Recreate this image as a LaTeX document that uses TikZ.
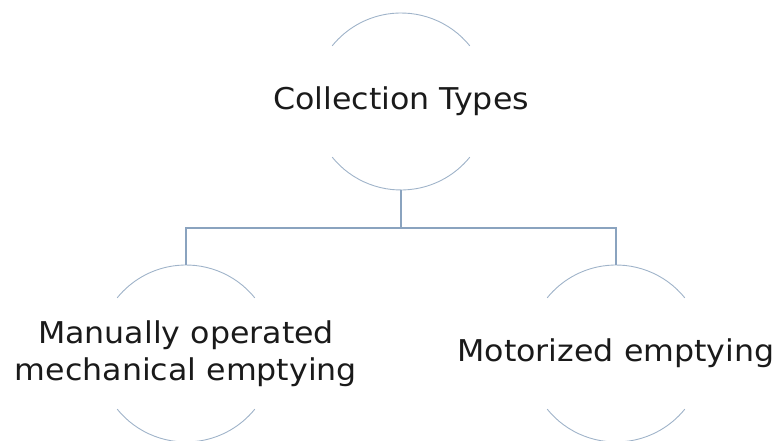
\documentclass[tikz,border=0pt]{standalone}
\usepackage{fontspec}
\setmainfont[FakeStretch=1.055]{DejaVu Sans}
\definecolor{arcgray}{HTML}{9FB3C9}
\definecolor{linkblue}{HTML}{8AA3BF}
\definecolor{inktext}{HTML}{1A1A1A}
\begin{document}
\begin{tikzpicture}[x=1pt,y=1pt,
  bubble/.style={circle,minimum size=177pt,inner sep=0pt,outer sep=0pt},
  caption/.style={align=center,inner sep=0pt,
    font=\fontsize{30}{37}\selectfont,text=inktext},
  rim/.style={draw=arcgray,line width=0.9pt},
  link/.style={draw=linkblue,line width=1.1pt}]
\useasboundingbox (0,0) rectangle (779,441);

% the three circles (radius 88.5pt)
\node[bubble] (root)  at (401,339.5) {};
\node[bubble] (left)  at (186,87.5)  {};
\node[bubble] (right) at (616,87.5)  {};

% captions set in the middle of each circle
\node[caption] (rootText)  at (root.center)  {Collection Types};
\node[caption] (leftText)  at (left.center)  {Manually operated\\mechanical emptying};
\node[caption] (rightText) at (right.center) {Motorized emptying};

% only the upper and lower parts of each circle are stroked
\foreach \n in {root,left,right}{
  \draw[rim] (\n.39)  arc (39:141:88.5);
  \draw[rim] (\n.219) arc (219:321:88.5);
}

% elbow connectors through a common bar
\coordinate (bar) at (401,213);
\draw[link] (root.south) -- (bar);
\draw[link] (bar) -| (left.north);
\draw[link] (bar) -| (right.north);
\end{tikzpicture}
\end{document}
